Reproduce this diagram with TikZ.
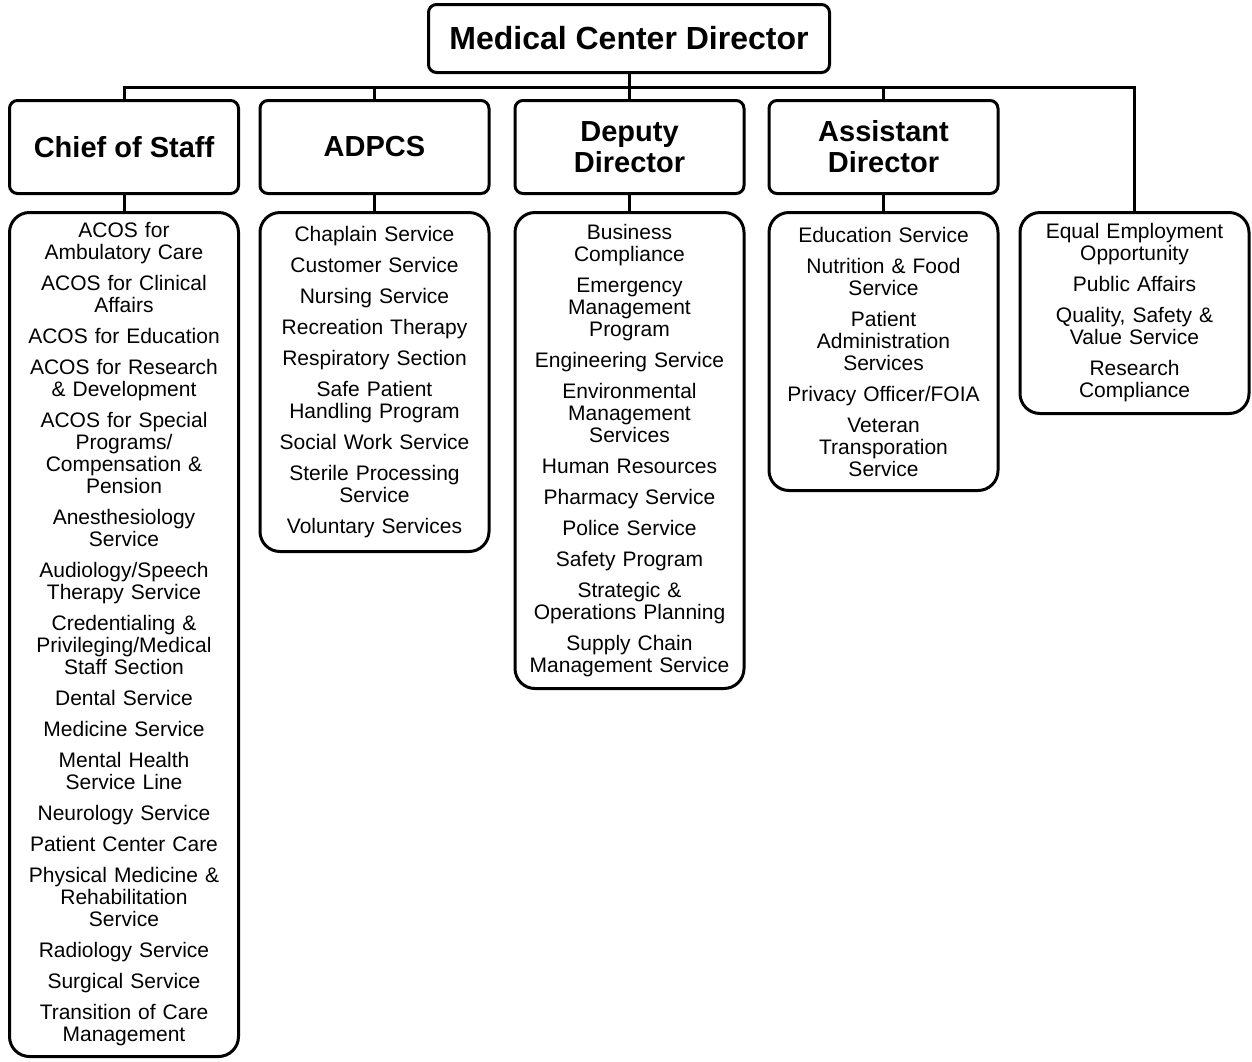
\documentclass[tikz,border=0pt]{standalone}
\usepackage{fontspec}
\setmainfont{Liberation Sans}
\begin{document}
\begin{tikzpicture}[x=1pt,y=-1pt]
\tikzstyle{top}=[draw,line width=3pt,rounded corners=8pt,minimum width=401pt,minimum height=68pt,inner sep=0pt,font=\fontsize{32}{34}\selectfont\bfseries]
\tikzstyle{head}=[draw,line width=3pt,rounded corners=8pt,minimum width=229pt,minimum height=93pt,inner sep=0pt,align=center,font=\fontsize{29}{31}\selectfont\bfseries]
\tikzstyle{unit}=[draw,line width=3pt,rounded corners=20pt,minimum width=229pt,text width=222pt,inner sep=0pt,anchor=north,align=center,font=\fontsize{21}{22}\selectfont]
\tikzstyle{link}=[line width=3pt]
\useasboundingbox (0,0) rectangle (1252,1061);

% Director
\node (MCD) [top] at (629,38.5) {Medical Center Director};
\coordinate (BUS) at (629,87);

% Heads
\node (COS) [head] at (124,147) {Chief of Staff};
\node (ADPCS) [head] at (374.5,147) {ADPCS};
\node (DD) [head] at (629.5,147) {Deputy\\Director};
\node (AD) [head] at (883.5,147) {Assistant\\Director};

% Services
\node (COSL) [unit,minimum height=844pt] at (124,211) {ACOS for\\Ambulatory Care\\[9pt]
ACOS for Clinical\\Affairs\\[9pt]
ACOS for Education\\[9pt]
ACOS for Research\\\& Development\\[9pt]
ACOS for Special\\Programs/\\Compensation \&\\Pension\\[9pt]
Anesthesiology\\Service\\[9pt]
Audiology/Speech\\Therapy Service\\[9pt]
Credentialing \&\\Privileging/Medical\\Staff Section\\[9pt]
Dental Service\\[9pt]
Medicine Service\\[9pt]
Mental Health\\Service Line\\[9pt]
Neurology Service\\[9pt]
Patient Center Care\\[9pt]
Physical Medicine \&\\Rehabilitation\\Service\\[9pt]
Radiology Service\\[9pt]
Surgical Service\\[9pt]
Transition of Care\\Management};
\node (ADPCSL) [unit,minimum height=339pt] at (374.5,211) {Chaplain Service\\[9pt]
Customer Service\\[9pt]
Nursing Service\\[9pt]
Recreation Therapy\\[9pt]
Respiratory Section\\[9pt]
Safe Patient\\Handling Program\\[9pt]
Social Work Service\\[9pt]
Sterile Processing\\Service\\[9pt]
Voluntary Services};
\node (DDL) [unit,minimum height=476pt] at (629.5,211) {Business\\Compliance\\[9pt]
Emergency\\Management\\Program\\[9pt]
Engineering Service\\[9pt]
Environmental\\Management\\Services\\[9pt]
Human Resources\\[9pt]
Pharmacy Service\\[9pt]
Police Service\\[9pt]
Safety Program\\[9pt]
Strategic \&\\Operations Planning\\[9pt]
Supply Chain\\Management Service};
\node (ADL) [unit,minimum height=278pt] at (883.5,211) {Education Service\\[9pt]
Nutrition \& Food\\Service\\[9pt]
Patient\\Administration\\Services\\[9pt]
Privacy Officer/FOIA\\[9pt]
Veteran\\Transporation\\Service};
\node (MCDL) [unit,minimum height=201pt] at (1134.5,211) {Equal Employment\\Opportunity\\[9pt]
Public Affairs\\[9pt]
Quality, Safety \&\\Value Service\\[9pt]
Research\\Compliance};

% Lines
\draw[link] (MCD.south) -- (BUS);
\draw[link] (COS.north) |- (BUS) -| (MCDL.north);
\draw[link] (ADPCS.north) -- (ADPCS.north |- BUS);
\draw[link] (DD.north) -- (DD.north |- BUS);
\draw[link] (AD.north) -- (AD.north |- BUS);
\draw[link] (COS) -- (COSL);
\draw[link] (ADPCS) -- (ADPCSL);
\draw[link] (DD) -- (DDL);
\draw[link] (AD) -- (ADL);

\end{tikzpicture}
\end{document}
